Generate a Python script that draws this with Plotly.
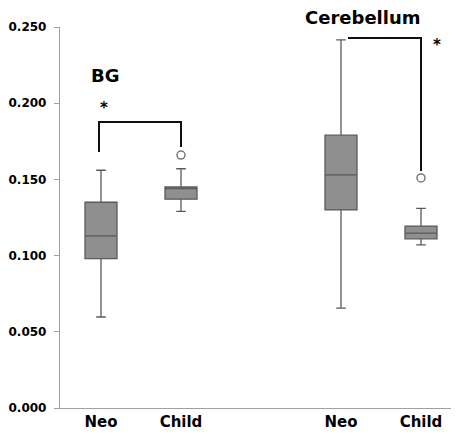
import plotly.graph_objects as go

# ---- data ----
groups = ["BG", "BG", "Cerebellum", "Cerebellum"]
labels = ["Neo", "Child", "Neo", "Child"]
positions = [1, 2, 4, 5]
lowerfence = [0.0597, 0.129, 0.0656, 0.107]
q1 = [0.098, 0.137, 0.130, 0.111]
median = [0.113, 0.144, 0.153, 0.1148]
q3 = [0.135, 0.145, 0.179, 0.1194]
upperfence = [0.156, 0.157, 0.2415, 0.131]

outlier_x = [2, 5]
outlier_y = [0.166, 0.151]

y_ticks = [0.0, 0.05, 0.10, 0.15, 0.20, 0.25]

# significance brackets (x, y path in data units)
bg_bracket_x = [0.975, 0.975, 2.0, 2.0]
bg_bracket_y = [0.168, 0.1877, 0.1877, 0.1713]
cb_bracket_x = [4.0875, 5.0, 5.0]
cb_bracket_y = [0.2428, 0.2428, 0.1555]

FONT = "DejaVu Sans"

fig = go.Figure()

fig.add_trace(go.Box(
    x=positions, q1=q1, median=median, q3=q3,
    lowerfence=lowerfence, upperfence=upperfence,
    boxpoints=False, width=0.4, whiskerwidth=0.3,
    fillcolor="#8f8f8f", line=dict(color="#5a5a5a", width=1.3),
    showlegend=False, hoverinfo="skip",
))

fig.add_trace(go.Scatter(
    x=outlier_x, y=outlier_y, mode="markers",
    marker=dict(symbol="circle-open", size=8, color="#7a7a7a", line=dict(width=1.5, color="#7a7a7a")),
    showlegend=False, hoverinfo="skip",
))

for bx, by in [(bg_bracket_x, bg_bracket_y), (cb_bracket_x, cb_bracket_y)]:
    fig.add_trace(go.Scatter(
        x=bx, y=by, mode="lines",
        line=dict(color="#111111", width=2),
        showlegend=False, hoverinfo="skip",
    ))

annots = [
    dict(text="BG", x=1.05, y=0.2185, xref="x", yref="y", font=dict(size=18)),
    dict(text="Cerebellum", x=4.275, y=1.026, xref="x", yref="paper", font=dict(size=18)),
    dict(text="*", x=1.0375, y=0.1969, xref="x", yref="y", font=dict(size=15)),
    dict(text="*", x=5.2, y=0.2382, xref="x", yref="y", font=dict(size=15)),
]
for a in annots:
    a["font"].update(family=FONT, color="#000000", weight="bold")
    a.update(showarrow=False, xanchor="center", yanchor="middle")
    fig.add_annotation(**a)

# page body has an 8px default margin, so margins are shifted to compensate
fig.update_layout(
    width=459, height=435,
    margin=dict(l=52, r=8, t=19, b=35, autoexpand=False),
    paper_bgcolor="white", plot_bgcolor="white",
    font=dict(family=FONT, color="#000000"),
)

fig.update_xaxes(
    range=[0.4875, 5.475],
    tickvals=positions, ticktext=labels,
    tickfont=dict(family=FONT, size=15, weight="bold", color="#000000"),
    showline=True, linecolor="#a0a0a0", linewidth=1.3,
    ticks="", showgrid=False, zeroline=False,
    ticklabelstandoff=0, automargin=False,
)
fig.update_yaxes(
    range=[0, 0.25],
    tickvals=y_ticks, tickformat=".3f",
    tickfont=dict(family=FONT, size=12, weight="bold", color="#000000"),
    showline=True, linecolor="#a0a0a0", linewidth=1.3,
    ticks="outside", ticklen=5, tickcolor="#a0a0a0", tickwidth=1.3,
    ticklabelstandoff=5, automargin=False,
    showgrid=False, zeroline=False,
)

fig.write_html("out.html")
